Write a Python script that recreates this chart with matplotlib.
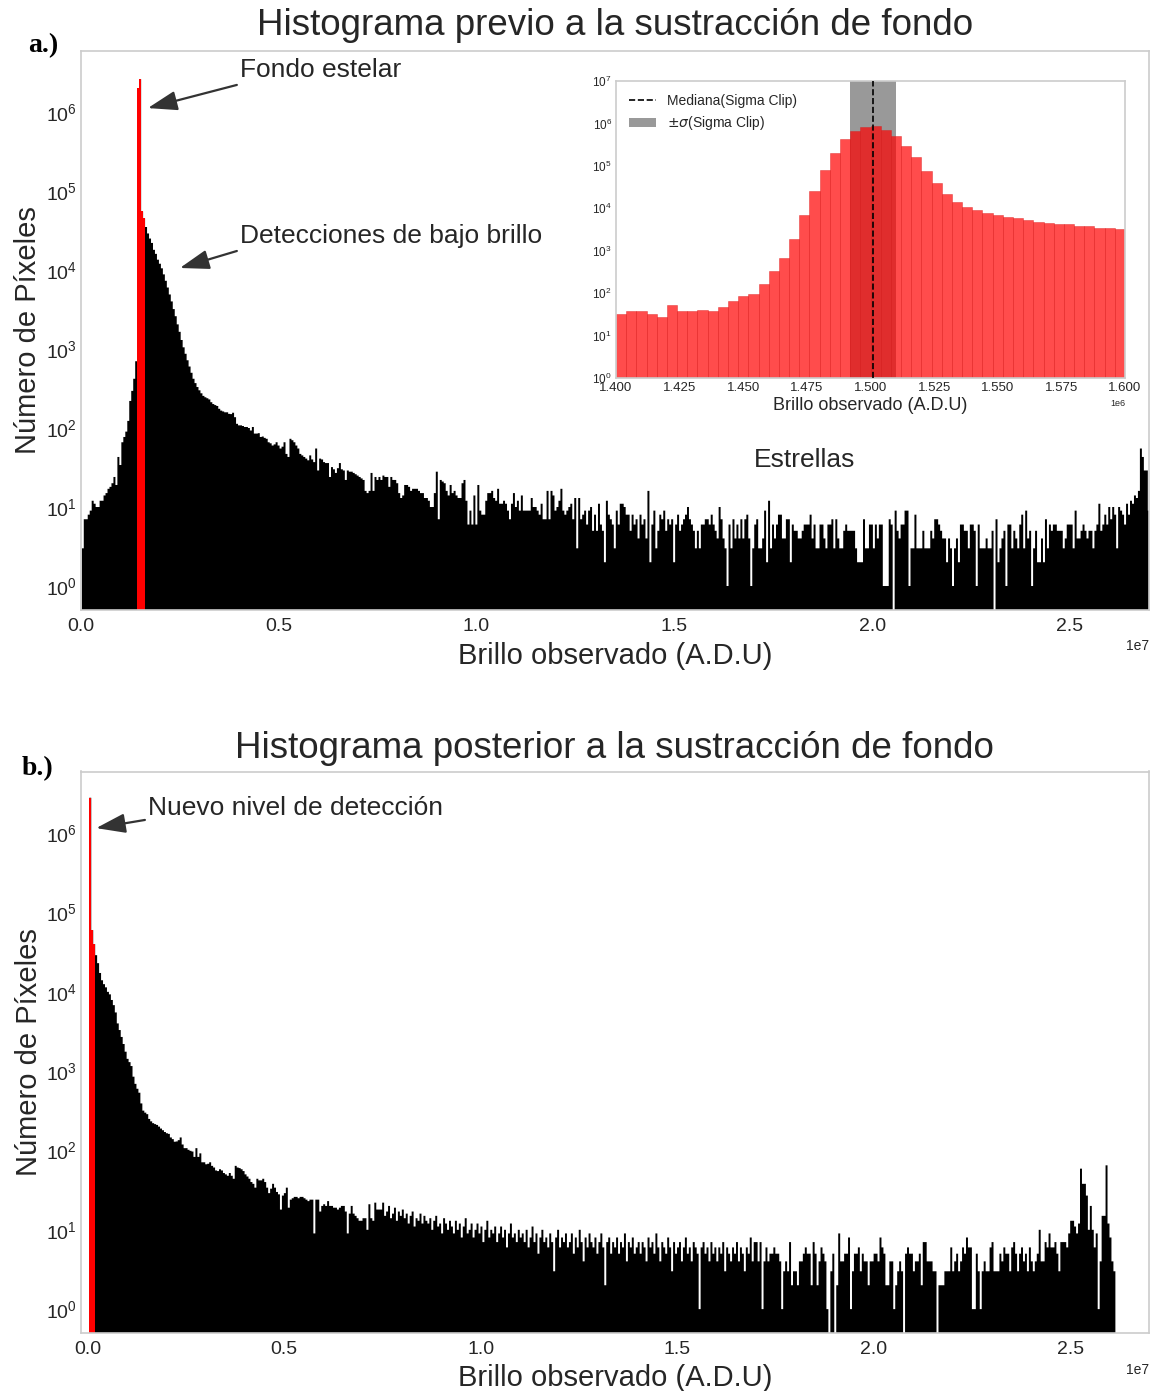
import numpy as np
import matplotlib
matplotlib.use("Agg")
import matplotlib.pyplot as plt
from matplotlib.lines import Line2D
from matplotlib.patches import Patch

plt.rcParams['font.family'] = ['Liberation Sans', 'DejaVu Sans']
TXT = '#262626'

# ---------------------------------------------------------------------------
# Data
# ---------------------------------------------------------------------------
BIN_WIDTH = 5.0e4  # ADU per bin, full-frame histograms

# a) raw frame, first bin edge
START_A = 2.0e4
rise_a = [3, 7, 7, 8, 9, 12, 11, 10, 10, 12,
          12, 14, 15, 17, 18, 20, 24, 19, 43, 34,
          66, 77, 90, 123, 220, 295, 420, 700]
bkg_a = [2.0e6, 2.6e6, 5.5e4, 4.5e4]          # sky background bins
decay_a = [35000, 29000, 25000, 22000, 18000, 16000, 13500, 12000, 10500, 8800,
           7300, 6000, 4900, 4000, 3200, 2600, 2050, 1650, 1300, 1050,
           870, 720, 600, 500, 420, 370, 330, 300, 275, 255,
           245, 238, 230, 212, 201, 195, 190, 175, 166, 162,
           158, 158, 151, 150, 156, 137, 113, 108, 108, 106,
           103, 103, 100, 93, 103, 85, 85, 86, 77, 78,
           75, 73, 66, 64, 60, 62, 66, 60, 55, 58,
           66, 47, 43, 73, 70, 66, 60, 55, 47, 45,
           43, 41, 39, 45, 40, 37, 55, 29, 41, 40,
           37, 36, 36, 24, 32, 30, 27, 31, 36, 30,
           29, 22, 29, 28, 28, 27, 26, 25, 24, 23,
           22, 16, 15, 16, 27, 16, 24, 22, 24, 22,
           25, 24, 24, 18, 24, 22, 22, 20, 15]
mid_a = [13, 14, 19, 19, 18, 16, 17, 17, 17, 16, 15, 15,
         13, 13, 12, 10, 10, 15, 28, 7, 22, 21, 20, 16,
         14, 19, 15, 16, 14, 13, 13, 20, 22, 12, 6, 9,
         6, 14, 6, 19, 9, 8, 8, 12, 15, 15, 16, 13,
         12, 17, 11, 11, 12, 11, 9, 7, 11, 15, 10, 12,
         9, 14, 9, 9, 9, 9, 13, 10, 10, 9, 8, 11,
         7, 7, 16, 7, 16, 14, 9, 10, 12, 17, 9, 8,
         9, 10, 11, 7, 13, 3, 13, 7, 8, 9, 6, 9,
         10, 5, 8, 5, 11, 6, 5, 2, 12, 8, 7, 6,
         3, 9, 6, 11, 11, 10, 8, 8, 5, 8, 6, 7,
         4, 8, 6, 7, 4, 16, 2, 6, 9, 3, 5, 8,
         7, 9, 5, 7, 6, 7, 2, 6, 8, 5, 6, 7,
         8, 10, 7, 6, 5, 3, 5, 3, 6, 6,
         7, 7, 6, 8, 6, 5, 4, 10, 7, 4,
         3, 1, 6, 3, 7, 4, 6, 4, 7, 4,
         7, 8, 4, 1, 3, 6, 7, 3, 3, 4,
         9, 2, 12, 3, 6, 4, 6, 8, 8]
tail_a = [4, 4, 7, 7, 2, 6, 5, 5, 4, 4, 5,
          6, 6, 6, 8, 4, 6, 3, 3, 6, 6, 4,
          3, 6, 6, 7, 3, 7, 4, 3, 3, 5, 6,
          5, 5, 5, 5, 3, 2, 2, 2, 7, 3, 3,
          6, 6, 3, 6, 4, 6, 6, 1, 1, 1,
          7, 6, 0,
          9, 5, 4, 6, 6, 9, 9, 1, 3, 3, 8,
          3, 3, 3, 5, 3, 3, 3, 5, 4, 7, 7,
          6, 5, 4, 4, 2, 4, 3, 1, 3, 4, 2,
          6, 6, 5, 5, 3, 6, 6, 5, 1, 6, 3,
          3, 3, 4, 3, 3, 5, 0,
          7, 2, 3, 4, 5, 1, 6, 6, 3, 5, 4, 3,
          6, 8, 3, 9, 4, 5, 1, 3, 5, 2, 2, 4,
          2, 7, 3, 6, 5, 6, 6, 5, 5, 5, 3, 4, 6,
          6, 6, 3, 9, 4, 4, 5, 6, 5, 4, 5, 5,
          3, 5, 6, 11, 5, 6, 8, 6, 10, 7, 10, 8,
          3, 10, 9, 8, 6, 11, 8, 12, 11, 14, 13, 16,
          55, 43, 29, 29, 9]

# b) background-subtracted frame, first bin edge
START_B = 4.5e4
bkg_b = [2.8e6, 6.0e4, 4.0e4]                  # new detection level bins
decay_b = [2.9e4, 2.3e4, 1.73e4, 1.4e4, 1.25e4, 1.14e4, 1.0e4,
           9300, 7900, 6800, 5500, 4000, 3300, 2700, 2200, 1760, 1430,
           1300, 1160, 852, 692, 600, 535, 392, 318, 300, 287,
           250, 233, 221, 215, 210, 200, 189, 180, 171, 165,
           162, 146, 139, 129, 130, 135, 146, 119, 107, 107,
           102, 99, 97, 83, 107, 83, 92, 71, 71, 67,
           68, 71, 64, 61, 56, 55, 58, 56, 52, 50,
           48, 52, 48, 44, 64, 61, 60, 58, 55, 50,
           47, 44, 40, 38, 34, 44, 42, 42, 44, 40,
           34, 29, 33, 38, 34, 30, 28, 18, 27, 29,
           34, 19, 24, 25, 26, 26, 25, 26, 26, 25,
           24, 23, 24, 24, 9, 24, 24, 17, 20, 21,
           20, 23, 20, 20, 19, 19, 18, 19, 20, 20,
           17, 9, 16, 20, 16, 15, 14, 13, 13, 14,
           14, 10, 21, 14, 13, 22, 18, 18]
mid_b = [18, 22, 15, 17, 20, 14, 16, 19, 13, 17, 15, 18,
         14, 16, 12, 15, 17, 11, 14, 13, 16, 12, 15, 13,
         12, 14, 10, 13, 15, 11, 12, 9, 14, 12, 10, 13,
         11, 9, 13, 10, 12, 8, 11, 14, 9, 10, 12, 8,
         10, 12, 9, 11, 7, 10, 13, 8, 10, 9, 11, 7,
         9, 11, 8, 10, 6, 9, 12, 8, 9, 7, 10, 8,
         9, 7, 10, 6, 8, 11, 7, 9, 5, 8, 10, 7,
         8, 6, 9, 7, 3, 8, 10, 6, 8, 7, 9, 6,
         7, 9, 5, 8, 6, 10, 7, 4, 8, 6, 9, 7,
         6, 8, 5, 7, 9, 6, 2, 7, 8, 5, 7, 6,
         8, 5, 7, 6, 9, 4, 7, 6, 8, 5, 6, 7,
         5, 7, 6, 4, 8, 6, 7, 5, 9, 6, 4, 7,
         6, 5, 8, 6, 3, 7, 5, 6, 7, 4, 6, 8,
         5, 6, 4, 7, 6, 5, 1, 6, 7, 5, 6, 4,
         7, 5, 6, 4, 6, 5, 7, 3, 6, 5, 4, 6,
         5, 7, 4, 6, 5, 3, 6, 5]
tail_b = [8, 4, 7, 7, 4, 7, 1, 4, 6, 4, 5, 5,
          6, 5, 5, 4, 1, 3, 4, 3, 7, 2, 3, 3,
          2, 4, 4, 5, 6, 5, 5, 2, 7, 5, 2,
          4, 6, 5, 4, 1,
          0, 3, 5, 0,
          2, 9, 4, 4, 5, 5, 8, 1, 3, 5, 5, 6,
          3, 5, 4, 4, 2, 4, 4, 5, 5, 4, 8, 6,
          5, 2, 2, 4, 4, 1, 2, 3, 4, 3,
          0,
          5, 6, 5, 5, 3, 4, 4, 5, 2, 7, 7, 4, 4, 4, 3, 3,
          0,
          2, 2, 2, 3, 3, 3, 6, 3, 4, 5, 3, 4,
          6, 5, 8, 6, 6, 1, 1, 5, 3, 1, 3, 4,
          3, 3, 6, 7, 3, 3, 3, 5, 4, 6, 5, 5,
          3, 6, 7, 5, 3, 5, 6, 4, 5, 3, 6, 4,
          3, 4, 5, 10, 4, 4, 7, 6, 9, 6, 6, 7,
          5, 3, 7, 7, 7, 6, 9, 13, 13, 11, 9, 12,
          59, 38, 38, 27, 10, 20, 10, 6, 9, 1, 4, 15, 15, 65,
          12, 8, 4, 3]

# inset: zoom on the sky background peak (sigma-clipped statistics)
INSET_START, INSET_STOP, INSET_BINS = 1.40e6, 1.60e6, 50
inset_counts = [33, 38, 38, 33, 27, 52, 37, 38, 40, 38,
                46, 64, 85, 95, 164, 325, 670, 1890, 6900, 25000,
                81000, 2.0e5, 4.2e5, 6.7e5, 8.1e5, 8.6e5, 7.1e5, 5.0e5, 2.9e5, 1.6e5,
                7.7e4, 4.0e4, 2.2e4, 1.4e4, 1.1e4, 9300, 7800, 6900, 6100, 5800,
                5300, 4800, 4500, 4300, 4200, 3900, 3800, 3500, 3400, 3300]
median_sc = 1.501e6
sigma_sc = 9.1e3

# ---------------------------------------------------------------------------
# Figure
# ---------------------------------------------------------------------------
W, H = 1154, 1391
fig = plt.figure(figsize=(W / 100, H / 100), dpi=100)


def frac_box(left, top, right, bottom):
    return [left / W, 1 - bottom / H, (right - left) / W, (bottom - top) / H]


ax_a = fig.add_axes(frac_box(81, 50.5, 1149, 609.8))
ax_b = fig.add_axes(frac_box(80.7, 771.5, 1149, 1333))
ax_in = fig.add_axes(frac_box(616, 81, 1125, 378))


def style(ax, size, ypad, xpad):
    for s in ax.spines.values():
        s.set_color('#cccccc')
        s.set_linewidth(1.2)
    ax.tick_params(which='both', length=0, labelcolor=TXT, labelsize=size)
    ax.tick_params(axis='x', pad=xpad)
    ax.tick_params(axis='y', pad=ypad)
    ax.minorticks_off()


def full_hist(ax, start, blocks, bkg_index, bkg):
    counts = np.concatenate([np.asarray(b, dtype=float) for b in blocks])
    edges = start + BIN_WIDTH * np.arange(counts.size + 1)
    ax.hist(edges[:-1], bins=edges, weights=counts, histtype='stepfilled',
            log=True, color='black', lw=0)
    e = edges[bkg_index:bkg_index + len(bkg) + 1]
    ax.hist(e[:-1], bins=e, weights=bkg, histtype='stepfilled',
            log=True, color='red', lw=0)


# ---- a) before background subtraction
full_hist(ax_a, START_A, [rise_a, bkg_a, decay_a, mid_a, tail_a], len(rise_a), bkg_a)
ax_a.set_xlim(0, 2.7e7)
ax_a.set_ylim(0.5, 6e6)
ax_a.set_yticks([10.0 ** k for k in range(7)])
style(ax_a, 14, 3, 6)
ax_a.set_title('Histograma previo a la sustracción de fondo', fontsize=26.5,
               color=TXT, pad=11.5)
ax_a.set_xlabel('Brillo observado (A.D.U)', fontsize=21, color=TXT)
ax_a.set_ylabel('Número de Píxeles', fontsize=21, color=TXT)
ax_a.xaxis.set_label_coords(0.5, -0.0575)
ax_a.yaxis.set_label_coords(-0.0365, 0.5)
ax_a.xaxis.get_offset_text().set_fontsize(10)
ax_a.xaxis.get_offset_text().set_color(TXT)

arrow = dict(arrowstyle='-|>,head_length=0.9,head_width=0.3', color='#333333',
             lw=1.6, mutation_scale=20, shrinkA=0, shrinkB=0)
ax_a.text(4.02e6, 3.4e6, 'Fondo estelar', fontsize=19, color=TXT, va='center')
ax_a.annotate('', xy=(1.69e6, 1.12e6), xytext=(3.94e6, 2.2e6), arrowprops=arrow)
ax_a.text(4.02e6, 2.7e4, 'Detecciones de bajo brillo', fontsize=19, color=TXT,
          va='center')
ax_a.annotate('', xy=(2.50e6, 1.06e4), xytext=(3.94e6, 1.74e4), arrowprops=arrow)
ax_a.text(1.83e7, 39.4, 'Estrellas', fontsize=19, color=TXT, ha='center',
          va='center')

# ---- inset: background peak with sigma-clip statistics
inset_edges = np.linspace(INSET_START, INSET_STOP, INSET_BINS + 1)
ax_in.axvspan(median_sc - sigma_sc, median_sc + sigma_sc, color='gray',
              alpha=0.8, lw=0, zorder=0.5)
ax_in.hist(inset_edges[:-1], bins=inset_edges, weights=inset_counts, log=True,
           color='red', alpha=0.7, lw=0.4, edgecolor=(0.85, 0.1, 0.1, 0.35),
           zorder=1)
ax_in.axvline(median_sc, color='black', ls='--', lw=1.2, zorder=3)
ax_in.set_xlim(INSET_START, INSET_STOP)
ax_in.set_ylim(1, 1e7)
ax_in.set_xticks(np.linspace(INSET_START, INSET_STOP, 9))
ax_in.set_yticks([10.0 ** k for k in range(8)])
style(ax_in, 9.5, 3, 3.2)
ax_in.tick_params(axis='y', labelsize=8.5)
ax_in.set_xlabel('Brillo observado (A.D.U)', fontsize=13, color=TXT)
ax_in.xaxis.set_label_coords(0.5, -0.064)
ax_in.xaxis.get_offset_text().set_fontsize(6.5)
ax_in.xaxis.get_offset_text().set_color(TXT)
handles = [Line2D([], [], color='black', ls='--', lw=1.2),
           Patch(facecolor='gray', alpha=0.8, lw=0)]
ax_in.legend(handles, ['Mediana(Sigma Clip)', r'$\pm\sigma$(Sigma Clip)'],
             loc='upper left', frameon=False, fontsize=10, handlelength=2.0,
             labelcolor=TXT)

# ---- b) after background subtraction
full_hist(ax_b, START_B, [bkg_b, decay_b, mid_b, tail_b], 0, bkg_b)
ax_b.set_xlim(-1.73e5, 2.7e7)
ax_b.set_ylim(0.5, 6e6)
ax_b.set_yticks([10.0 ** k for k in range(7)])
style(ax_b, 14, 3, 6)
ax_b.set_title('Histograma posterior a la sustracción de fondo', fontsize=26.5,
               color=TXT, pad=10)
ax_b.set_xlabel('Brillo observado (A.D.U)', fontsize=21, color=TXT)
ax_b.set_ylabel('Número de Píxeles', fontsize=21, color=TXT)
ax_b.xaxis.set_label_coords(0.5, -0.055)
ax_b.yaxis.set_label_coords(-0.0357, 0.5)
ax_b.xaxis.get_offset_text().set_fontsize(10)
ax_b.xaxis.get_offset_text().set_color(TXT)
ax_b.text(1.54e6, 2.08e6, 'Nuevo nivel de detección', fontsize=19, color=TXT,
          va='center')
ax_b.annotate('', xy=(2.2e5, 1.16e6), xytext=(1.46e6, 1.47e6), arrowprops=arrow)

# panel tags
fig.text(28 / W, 1 - 46 / H, 'a.)', fontsize=20, fontweight='bold',
         family='Liberation Serif', va='center', color='black')
fig.text(22 / W, 1 - 769 / H, 'b.)', fontsize=20, fontweight='bold',
         family='Liberation Serif', va='center', color='black')

fig.savefig('out.png', dpi=100)
